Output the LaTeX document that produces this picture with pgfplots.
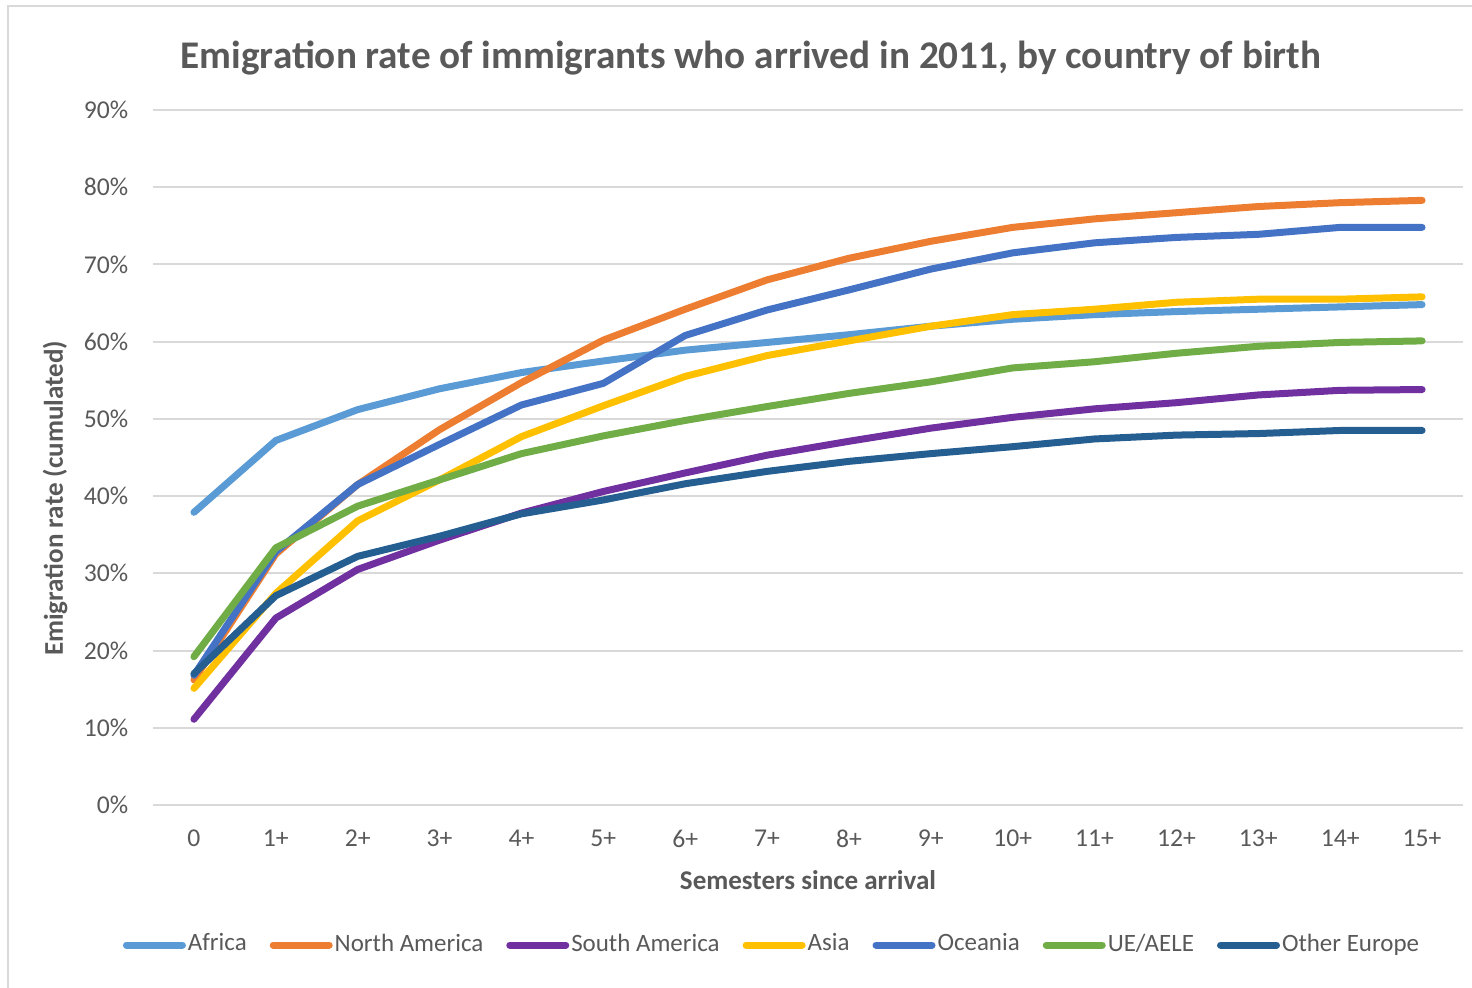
\documentclass[border=0pt]{standalone}
\usepackage{pgfplots}
\usepackage{pgfplotstable}
\usepackage{fontspec}
\setmainfont{Carlito}
\pgfplotsset{compat=1.18}

\definecolor{africa}{HTML}{5B9BD5}
\definecolor{namerica}{HTML}{ED7D31}
\definecolor{samerica}{HTML}{7030A0}
\definecolor{asia}{HTML}{FFC000}
\definecolor{oceania}{HTML}{4472C4}
\definecolor{ueaele}{HTML}{70AD47}
\definecolor{oeurope}{HTML}{255E91}
\definecolor{txt}{HTML}{595959}
\definecolor{gridgray}{HTML}{D9D9D9}

% cumulated emigration rate (%), by semester since arrival
\pgfplotstableread{
x africa namerica samerica asia oceania ueaele oeurope
0  37.9 16.2 11.1 15.1 16.8 19.2 17.0
1  47.2 32.5 24.2 27.4 32.8 33.3 27.1
2  51.2 41.5 30.5 36.8 41.5 38.7 32.2
3  53.9 48.6 34.3 42.1 46.7 42.1 34.8
4  56.0 54.7 37.8 47.7 51.8 45.5 37.7
5  57.5 60.2 40.6 51.7 54.6 47.8 39.5
6  58.9 64.2 43.0 55.5 60.8 49.8 41.6
7  59.9 68.0 45.3 58.2 64.1 51.6 43.2
8  60.9 70.8 47.1 60.1 66.7 53.3 44.5
9  62.0 73.0 48.8 62.0 69.4 54.8 45.5
10 62.9 74.8 50.2 63.5 71.5 56.6 46.4
11 63.5 75.9 51.3 64.2 72.8 57.4 47.4
12 63.9 76.7 52.1 65.1 73.5 58.5 47.9
13 64.2 77.5 53.1 65.5 73.9 59.4 48.1
14 64.5 78.0 53.7 65.5 74.8 59.9 48.5
15 64.8 78.3 53.8 65.8 74.8 60.1 48.5
}\emigdata

\begin{document}
\begin{tikzpicture}
\path[use as bounding box] (0,0) rectangle (14.72cm,9.88cm);
\draw[gridgray, line width=0.2mm] (0.8mm,0) -- (0.8mm,98.2mm) -- (14.72cm,98.2mm);
\begin{axis}[
  at={(1.53cm,1.83cm)}, anchor=south west,
  scale only axis,
  width=13.1cm, height=6.95cm,
  xmin=-0.5, xmax=15.5,
  ymin=0, ymax=90,
  xtick={0,...,15},
  xticklabels={0,1+,2+,3+,4+,5+,6+,7+,8+,9+,10+,11+,12+,13+,14+,15+},
  ytick={0,10,...,90},
  yticklabels={0\%,10\%,20\%,30\%,40\%,50\%,60\%,70\%,80\%,90\%},
  axis line style={draw=none},
  major tick length=0pt,
  xmajorgrids=false,
  ymajorgrids=true,
  major grid style={draw=gridgray, line width=0.2mm},
  tick label style={font=\fontsize{7.3}{8.8}\selectfont, text=txt, inner sep=0pt},
  yticklabel style={xshift=-2.4mm},
  xticklabel style={yshift=-2.4mm},
  xlabel={Semesters since arrival},
  ylabel={Emigration rate (cumulated)},
  label style={font=\bfseries\fontsize{7.7}{9}\selectfont, text=txt},
  xlabel style={at={(axis description cs:0.5,-0.1209)}, anchor=base},
  ylabel style={at={(axis description cs:-0.0748,0.441)}, anchor=center},
  legend columns=-1,
  legend style={
    at={(axis description cs:0.4725,-0.2015)}, anchor=center,
    draw=none, fill=none,
    font=\fontsize{7.1}{8.5}\selectfont, text=txt,
    /tikz/every even column/.append style={column sep=2.1mm},
    nodes={inner sep=0.2mm},
  },
  legend image code/.code={
    \draw[#1, line cap=round] (0mm,0mm) -- (5.6mm,0mm);
  },
  every axis plot/.append style={line width=0.7mm, line join=round, line cap=round},
  clip=false,
]
\addplot[africa]   table[x=x, y=africa]   {\emigdata};
\addlegendentry{Africa}
\addplot[namerica] table[x=x, y=namerica] {\emigdata};
\addlegendentry{North America}
\addplot[samerica] table[x=x, y=samerica] {\emigdata};
\addlegendentry{South America}
\addplot[asia]     table[x=x, y=asia]     {\emigdata};
\addlegendentry{Asia}
\addplot[oceania]  table[x=x, y=oceania]  {\emigdata};
\addlegendentry{Oceania}
\addplot[ueaele]   table[x=x, y=ueaele]   {\emigdata};
\addlegendentry{UE/AELE}
\addplot[oeurope]  table[x=x, y=oeurope]  {\emigdata};
\addlegendentry{Other Europe}

\node[anchor=base, font=\bfseries\fontsize{11.15}{13}\selectfont, text=txt]
  at (axis description cs:0.4565,1.0604)
  {Emigration rate of immigrants who arrived in 2011, by country of birth};
\end{axis}
\end{tikzpicture}
\end{document}
